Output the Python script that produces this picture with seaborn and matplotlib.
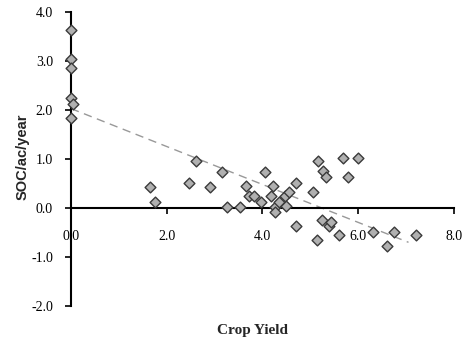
import numpy as np
import pandas as pd
import matplotlib
matplotlib.use('Agg')
import matplotlib.pyplot as plt
import seaborn as sns

# Crop yield vs SOC change
crop_yield = [0.0, 0.0, 0.0, 0.0, 0.04, 0.0,
              1.65, 1.75, 2.46, 2.62, 2.91, 3.16, 3.26, 3.52, 3.65, 3.71,
              3.83, 3.97, 4.05, 4.18, 4.21, 4.27, 4.27, 4.34, 4.46, 4.49,
              4.56, 4.69, 4.71, 5.05, 5.13, 5.15, 5.26, 5.33, 5.25, 5.38,
              5.43, 5.60, 5.69, 5.78, 5.99, 6.31, 6.61, 6.75, 7.20]
soc_change = [3.63, 3.04, 2.85, 2.24, 2.12, 1.84,
              0.43, 0.13, 0.52, 0.95, 0.43, 0.74, 0.03, 0.03, 0.45, 0.24,
              0.24, 0.13, 0.74, 0.24, 0.45, 0.03, -0.08, 0.13, 0.24, 0.05,
              0.33, -0.37, 0.52, 0.33, -0.65, 0.95, 0.76, 0.63, -0.24, -0.37,
              -0.28, -0.55, 1.03, 0.63, 1.03, -0.48, -0.78, -0.48, -0.55]

# linear trend line end points
trend_x = [0.0, 7.05]
trend_y = [2.03, -0.70]

x_ticks = [0.0, 2.0, 4.0, 6.0, 8.0]
y_ticks = [-2.0, -1.0, 0.0, 1.0, 2.0, 3.0, 4.0]

df = pd.DataFrame({'Crop Yield': crop_yield, 'SOC': soc_change})

sns.set_style('white')
plt.rcParams['font.family'] = ['Liberation Serif', 'DejaVu Serif']

fig = plt.figure(figsize=(4.65, 3.45), dpi=100)
ax = fig.add_axes([0.1527, 0.113, 0.8236, 0.852])

ax.plot(trend_x, trend_y, color='#999999', lw=1.0, dashes=(6, 4), zorder=2)
sns.scatterplot(data=df, x='Crop Yield', y='SOC', marker='D', s=30,
                color='#b0b0b0', edgecolor='#3a3a3a', linewidth=1.0,
                ax=ax, zorder=3, clip_on=False, legend=False)

ax.set_xlim(0, 8)
ax.set_ylim(-2, 4)
ax.set_xticks(x_ticks)
ax.set_yticks(y_ticks)
ax.set_xticklabels([f'{v:.1f}' for v in x_ticks], fontsize=10.5, fontweight='bold')
ax.set_yticklabels([f'{v:.1f}' for v in y_ticks], fontsize=10.5, fontweight='bold')

ax.spines['left'].set_position(('data', 0))
ax.spines['bottom'].set_position(('data', 0))
ax.spines['top'].set_visible(False)
ax.spines['right'].set_visible(False)
for s in ['left', 'bottom']:
    ax.spines[s].set_color('black')
    ax.spines[s].set_linewidth(1.5)

ax.tick_params(axis='x', direction='out', length=4, width=1.2, pad=12, colors='black')
ax.tick_params(axis='y', direction='out', length=4, width=1.2, pad=9, colors='black')
ax.tick_params(bottom=True, left=True)

ax.set_xlabel('Crop Yield', fontsize=11, fontweight='bold')
ax.xaxis.set_label_coords(0.475, -0.062)
ax.xaxis.label.set_va('top')
ax.set_ylabel('SOC/ac/year', fontsize=10.5, fontweight='bold', family='Liberation Sans')
ax.yaxis.set_label_coords(-0.108, 0.507)
ax.grid(False)

fig.savefig('out.png', dpi=100)
